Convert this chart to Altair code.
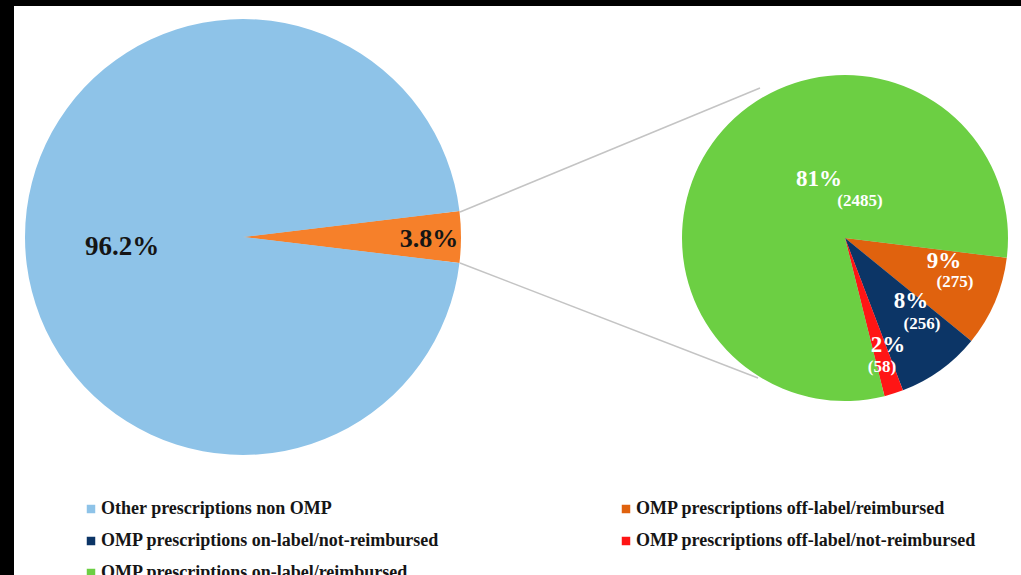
import math
import altair as alt
import pandas as pd

# ---------------- data ----------------
left_categories = ["OMP prescriptions", "Other prescriptions non OMP"]
left_values = [3.8, 96.2]
left_labels = ["3.8%", "96.2%"]

right_categories = [
    "OMP prescriptions off-label/reimbursed",
    "OMP prescriptions on-label/not-reimbursed",
    "OMP prescriptions off-label/not-reimbursed",
    "OMP prescriptions on-label/reimbursed",
]
right_counts = [275, 256, 58, 2485]
right_pcts = ["9%", "8%", "2%", "81%"]

# legend is filled column by column (3 rows x 2 columns)
legend_entries = [
    "Other prescriptions non OMP",
    "OMP prescriptions on-label/not-reimbursed",
    "OMP prescriptions on-label/reimbursed",
    "OMP prescriptions off-label/reimbursed",
    "OMP prescriptions off-label/not-reimbursed",
]
color_domain = [
    "Other prescriptions non OMP",
    "OMP prescriptions off-label/reimbursed",
    "OMP prescriptions on-label/not-reimbursed",
    "OMP prescriptions off-label/not-reimbursed",
    "OMP prescriptions on-label/reimbursed",
    "OMP prescriptions",
]
color_range = ["#8EC3E8", "#E0620E", "#0C3566", "#FF1515", "#6CCF43", "#F6802A"]

# ---------------- layout (image px) ----------------
X0, Y0 = 14, 6          # black frame on the left / top
W, H = 1021 - X0, 575 - Y0
LCX, LCY, LR = 243, 237, 218
RCX, RCY, RR = 845, 238, 163

left_df = pd.DataFrame({"category": left_categories, "value": left_values,
                        "order": list(range(len(left_values)))})
right_df = pd.DataFrame({"category": right_categories, "value": right_counts,
                         "order": list(range(len(right_counts)))})

color_scale = alt.Scale(domain=color_domain, range=color_range)
legend = alt.Legend(
    values=legend_entries, orient="none", title=None, columns=2,
    legendX=82 - X0, legendY=500 - Y0,
    symbolType="square", symbolSize=72, symbolStrokeWidth=0, symbolOpacity=1,
    labelFont="Liberation Serif", labelFontWeight="bold", labelFontSize=18,
    labelColor="#151515", labelLimit=600, labelOffset=1,
    columnPadding=177, rowPadding=14, padding=0,
)

one = pd.DataFrame({"k": [0]})


def px(x):
    return alt.value(x - X0)


def py(y):
    return alt.value(y - Y0)


def shadow(cx, cy, r):
    layers = []
    for extra in (14, 11, 8, 5, 2):
        layers.append(
            alt.Chart(one).mark_circle(size=math.pi * (r + extra) ** 2, color="#8a8a8a",
                                       opacity=0.09, strokeWidth=0)
            .encode(x=px(cx + 1), y=py(cy + 1))
        )
    return layers


def pie(df, cx, cy, r, start_deg):
    a0 = math.radians(start_deg)
    return alt.Chart(df).mark_arc(radius=r, strokeWidth=0).encode(
        theta=alt.Theta("value:Q", stack=True,
                        scale=alt.Scale(range=[a0, a0 + 2 * math.pi])),
        order=alt.Order("order:Q"),
        color=alt.Color("category:N", scale=color_scale, legend=legend),
        x=px(cx), y=py(cy),
    )


def label(text, x, y, size, color):
    return alt.Chart(pd.DataFrame({"t": [text]})).mark_text(
        font="Liberation Serif", fontWeight="bold", fontSize=size, color=color,
        align="center", baseline="middle",
    ).encode(x=px(x), y=py(y), text="t:N")


def connector(x1, y1, x2, y2):
    return alt.Chart(one).mark_rule(color="#c4c4c4", strokeWidth=1.5).encode(
        x=px(x1), y=py(y1), x2=px(x2), y2=py(y2)
    )


left_start = 90 - left_values[0] * 3.6 / 2
layers = []
layers += shadow(LCX, LCY, LR)
layers += shadow(RCX, RCY, RR)
layers.append(pie(left_df, LCX, LCY, LR, left_start))
layers.append(pie(right_df, RCX, RCY, RR, 97))
layers.append(connector(460, 212, 760, 88))
layers.append(connector(460, 263, 758, 378))

layers.append(label(left_labels[1], 122, 247, 27, "#151515"))
layers.append(label(left_labels[0], 429, 239, 26, "#151515"))

pct_pos = [(944, 261), (911, 301), (888, 345), (819, 179)]
cnt_pos = [(955, 282), (922, 324), (882, 367), (860, 201)]
for p, c, (x1, y1), (x2, y2) in zip(right_pcts, right_counts, pct_pos, cnt_pos):
    layers.append(label(p, x1, y1, 23, "white"))
    layers.append(label(f"({c})", x2, y2, 17, "white"))

chart = (
    alt.layer(*layers)
    .resolve_scale(theta="independent")
    .properties(
        width=W, height=H, background="black",
        padding={"left": X0, "top": Y0, "right": 0, "bottom": 0},
        autosize=alt.AutoSizeParams(type="none"),
    )
    .configure_view(fill="white", strokeWidth=0)
)

chart.save("out.html", embed_options={"renderer": "svg", "actions": False})
